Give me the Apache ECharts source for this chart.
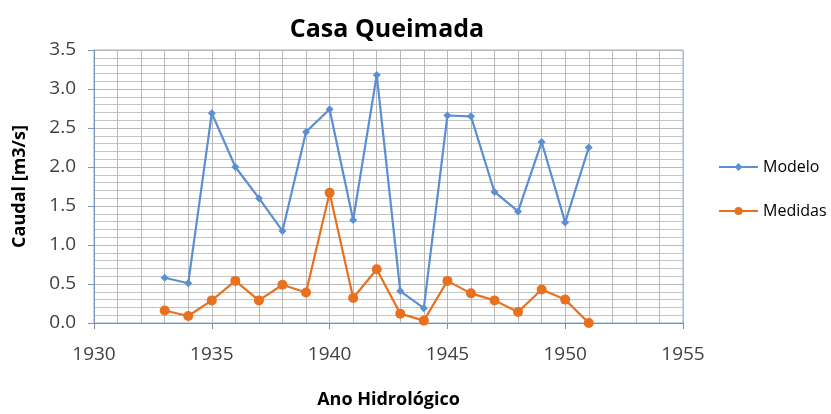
<!DOCTYPE html>
<html>
<head>
<meta charset="utf-8">
<script src="https://cdn.jsdelivr.net/npm/echarts@6/dist/echarts.min.js"></script>
<style>
  html, body { margin: 0; padding: 0; background: #fff; }
  #chart { width: 831px; height: 414px; }
</style>
</head>
<body>
<div id="chart"></div>
<script>
// anos hidrologicos
var years = [1933, 1934, 1935, 1936, 1937, 1938, 1939, 1940, 1941, 1942,
  1943, 1944, 1945, 1946, 1947, 1948, 1949, 1950, 1951];
var modelo = [0.58, 0.51, 2.69, 2.0, 1.6, 1.18, 2.45, 2.74, 1.32, 3.18,
  0.41, 0.19, 2.66, 2.65, 1.68, 1.43, 2.32, 1.29, 2.25];
var medidas = [0.16, 0.09, 0.29, 0.54, 0.29, 0.49, 0.39, 1.67, 0.32, 0.69,
  0.12, 0.03, 0.54, 0.38, 0.29, 0.14, 0.43, 0.30, 0.0];

var font = "'Open Sans', 'Liberation Sans', sans-serif";

function pairs(vals) {
  return years.map(function (y, i) { return [y, vals[i]]; });
}

var chart = echarts.init(document.getElementById("chart"));
chart.setOption({
  animation: false,
  textStyle: { fontFamily: font },
  title: {
    text: "Casa Queimada",
    left: 382,
    top: 12,
    textAlign: "center",
    textStyle: { fontSize: 25, fontWeight: "bold", color: "#000", fontFamily: font }
  },
  grid: {
    left: 94,
    top: 50,
    right: 148,
    bottom: 90,
    show: true,
    borderColor: "#8db3e2",
    borderWidth: 1
  },
  legend: {
    orient: "vertical",
    left: 713,
    top: 154,
    itemGap: 28,
    itemWidth: 39,
    itemHeight: 10,
    textStyle: { fontSize: 16, color: "#000", fontFamily: font },
    data: ["Modelo", "Medidas"]
  },
  xAxis: {
    type: "value",
    min: 1930,
    max: 1955,
    interval: 5,
    name: "Ano Hidrológico",
    nameLocation: "middle",
    nameGap: 68,
    nameTextStyle: { fontSize: 18, fontWeight: "bold", color: "#000", fontFamily: font },
    axisLine: { lineStyle: { color: "#8c8c8c" } },
    axisTick: { show: true, length: 6, lineStyle: { color: "#8c8c8c" } },
    axisLabel: {
      fontSize: 19,
      color: "#404040",
      margin: 22,
      formatter: function (v) { return String(v); }
    },
    splitLine: { show: true, lineStyle: { color: "#b8b8b8" } },
    minorSplitLine: { show: true, lineStyle: { color: "#b8b8b8" } },
    minorTick: { show: false, splitNumber: 5 }
  },
  yAxis: {
    type: "value",
    min: 0,
    max: 3.5,
    interval: 0.5,
    name: "Caudal [m3/s]",
    nameLocation: "middle",
    nameGap: 65,
    nameTextStyle: { fontSize: 18, fontWeight: "bold", color: "#000", fontFamily: font },
    axisLine: { show: true, lineStyle: { color: "#7a96b8" } },
    axisTick: { show: true, length: 6, lineStyle: { color: "#7a96b8" } },
    axisLabel: {
      fontSize: 19,
      color: "#404040",
      margin: 18,
      formatter: function (v) { return v.toFixed(1); }
    },
    splitLine: { show: true, lineStyle: { color: "#b8b8b8" } },
    minorSplitLine: { show: true, lineStyle: { color: "#c4c4c4" } },
    minorTick: { show: false, splitNumber: 5 }
  },
  series: [
    {
      name: "Modelo",
      type: "line",
      data: pairs(modelo),
      symbol: "diamond",
      symbolSize: 8,
      itemStyle: { color: "#5b8fd4" },
      lineStyle: { width: 2.2, color: "#5b8fd4" }
    },
    {
      name: "Medidas",
      type: "line",
      data: pairs(medidas),
      symbol: "circle",
      symbolSize: 10,
      itemStyle: { color: "#e8711f" },
      lineStyle: { width: 2.2, color: "#e8711f" }
    }
  ]
});
</script>
</body>
</html>
